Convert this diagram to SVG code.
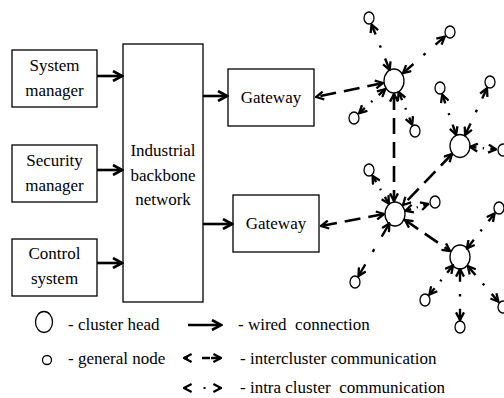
<svg xmlns="http://www.w3.org/2000/svg" width="504" height="398" viewBox="0 0 504 398" font-family="'Liberation Serif', 'DejaVu Serif', serif" font-size="17">
  <style>
    .c { text-anchor: middle; }
    .lg { white-space: pre; }
    .box { fill: #fff; stroke: #000; stroke-width: 1.3; }
    .ch { fill: #fff; stroke: #000; stroke-width: 1.3; }
    .gn { fill: #fff; stroke: #000; stroke-width: 1.3; }
    .wired { fill: none; stroke: #000; stroke-width: 2.6; marker-end: url(#headW); }
    .inter { fill: none; stroke: #000; stroke-width: 2.6; stroke-dasharray: 16 8; marker-start: url(#headC); marker-end: url(#headC); }
    .intra { fill: none; stroke: #000; stroke-width: 2.4; stroke-dasharray: 22 24 5 24 25; marker-start: url(#headC); marker-end: url(#headC); }
  </style>
  <defs>
    <marker id="headW" viewBox="0 0 12 12" markerWidth="12" markerHeight="12" refX="10.5" refY="6" orient="auto-start-reverse" markerUnits="userSpaceOnUse">
      <path d="M1.5,1 L10.5,6 L1.5,11" fill="none" stroke="#000" stroke-width="2.6"/>
    </marker>
    <marker id="headC" viewBox="0 0 10 10" markerWidth="10" markerHeight="10" refX="8.8" refY="5" orient="auto-start-reverse" markerUnits="userSpaceOnUse">
      <path d="M1.2,1 L8.8,5 L1.2,9" fill="none" stroke="#000" stroke-width="2.3"/>
    </marker>
  </defs>

  <!-- management side -->
  <g id="system-manager">
    <rect class="box" x="12" y="50" width="85" height="57"/>
    <text class="c" x="54.5" y="71">System</text>
    <text class="c" x="54.5" y="96">manager</text>
  </g>
  <g id="security-manager">
    <rect class="box" x="12" y="145" width="85" height="57"/>
    <text class="c" x="54.5" y="166">Security</text>
    <text class="c" x="54.5" y="191">manager</text>
  </g>
  <g id="control-system">
    <rect class="box" x="12" y="239" width="85" height="57"/>
    <text class="c" x="54.5" y="259">Control</text>
    <text class="c" x="54.5" y="284">system</text>
  </g>
  <g id="backbone">
    <rect class="box" x="123" y="44" width="80" height="258"/>
    <text class="c" x="163" y="156">Industrial</text>
    <text class="c" x="163" y="181">backbone</text>
    <text class="c" x="163" y="205">network</text>
  </g>
  <g id="gateway-1">
    <rect class="box" x="228" y="69" width="86" height="57"/>
    <text class="c" x="271" y="103">Gateway</text>
  </g>
  <g id="gateway-2">
    <rect class="box" x="233" y="195" width="86" height="57"/>
    <text class="c" x="276" y="229">Gateway</text>
  </g>

  <!-- wireless field: cluster heads -->
  <g id="cluster-head-1"><ellipse class="ch" cx="394" cy="81" rx="10" ry="12"/></g>
  <g id="cluster-head-2"><ellipse class="ch" cx="460" cy="146" rx="10" ry="11.5"/></g>
  <g id="cluster-head-3"><ellipse class="ch" cx="395" cy="214" rx="10" ry="12"/></g>
  <g id="cluster-head-4"><ellipse class="ch" cx="460" cy="257" rx="10" ry="12"/></g>

  <!-- wireless field: general nodes -->
  <g id="node-1"><ellipse class="gn" cx="369" cy="18" rx="5" ry="6"/></g>
  <g id="node-2"><ellipse class="gn" cx="450" cy="32" rx="5" ry="6"/></g>
  <g id="node-3"><ellipse class="gn" cx="354" cy="118" rx="5" ry="6"/></g>
  <g id="node-4"><ellipse class="gn" cx="415" cy="131" rx="5" ry="6"/></g>
  <g id="node-5"><ellipse class="gn" cx="440" cy="88" rx="5" ry="6"/></g>
  <g id="node-6"><ellipse class="gn" cx="490" cy="82" rx="5" ry="6"/></g>
  <g id="node-7"><ellipse class="gn" cx="503" cy="150" rx="5" ry="6"/></g>
  <g id="node-8"><ellipse class="gn" cx="369" cy="170" rx="5" ry="6"/></g>
  <g id="node-9"><ellipse class="gn" cx="435" cy="202" rx="5" ry="6"/></g>
  <g id="node-10"><ellipse class="gn" cx="499" cy="208" rx="5" ry="6"/></g>
  <g id="node-11"><ellipse class="gn" cx="355" cy="282" rx="5" ry="6"/></g>
  <g id="node-12"><ellipse class="gn" cx="425" cy="300" rx="5" ry="6"/></g>
  <g id="node-13"><ellipse class="gn" cx="460" cy="327" rx="5" ry="6"/></g>
  <g id="node-14"><ellipse class="gn" cx="503" cy="307" rx="5" ry="6"/></g>

  <!-- connectors -->
  <g id="connectors">
    <!-- wired -->
    <path class="wired" d="M97,76 H122"/>
    <path class="wired" d="M97,170 H122"/>
    <path class="wired" d="M97,263 H122"/>
    <path class="wired" d="M203,96 H227"/>
    <path class="wired" d="M203,224 H232"/>
    <!-- intercluster -->
    <path class="inter" d="M383,83 L316,97"/>
    <path class="inter" d="M394,94 L394,201"/>
    <path class="inter" d="M452,154 L403,205"/>
    <path class="inter" d="M384,214 L321,226"/>
    <path class="inter" d="M405,220 L450,251"/>
    <!-- intra cluster -->
    <path class="intra" pathLength="100" d="M371.6,24.5 L389.6,69.9"/>
    <path class="intra" pathLength="100" d="M444.7,36.6 L403,73.1"/>
    <path class="intra" pathLength="100" d="M359.1,113.2 L385.2,89.1"/>
    <path class="intra" pathLength="100" d="M412.2,124.6 L398.7,92"/>
    <path class="intra" pathLength="100" d="M442.3,94.6 L456.1,134.7"/>
    <path class="intra" pathLength="100" d="M487,88.3 L465.1,135.1"/>
    <path class="intra" pathLength="100" d="M496,149.3 L470,146.9"/>
    <path class="intra" pathLength="100" d="M372.6,176 L388.9,203.7"/>
    <path class="intra" pathLength="100" d="M428.3,204 L405.5,210.8"/>
    <path class="intra" pathLength="100" d="M358.5,276 L389.4,223.5"/>
    <path class="intra" pathLength="100" d="M494.6,213.5 L466.9,248.4"/>
    <path class="intra" pathLength="100" d="M429.4,294.6 L453.1,265.5"/>
    <path class="intra" pathLength="100" d="M460,320 L460,269"/>
    <path class="intra" pathLength="100" d="M498.4,301.7 L467.8,266.1"/>
  </g>

  <!-- legend -->
  <g id="legend">
    <ellipse class="ch" cx="44" cy="322" rx="8.5" ry="10.5"/>
    <text class="lg" x="68" y="330">- cluster head</text>
    <circle class="gn" cx="47" cy="360" r="4.5"/>
    <text class="lg" x="68" y="364">- general node</text>
    <path class="wired" d="M188,325 H221"/>
    <text class="lg" x="238" y="330">- wired  connection</text>
    <path d="M184,358 H221" fill="none" stroke="#000" stroke-width="2.6" stroke-dasharray="4 14 8 1 20" marker-start="url(#headC)" marker-end="url(#headC)"/>
    <text class="lg" x="240" y="364">- intercluster communication</text>
    <path d="M184,388 H221" fill="none" stroke="#000" stroke-width="2.2" stroke-dasharray="3 16.5 2 13 3" marker-start="url(#headC)" marker-end="url(#headC)"/>
    <text class="lg" x="240" y="393">- intra cluster  communication</text>
  </g>
</svg>
